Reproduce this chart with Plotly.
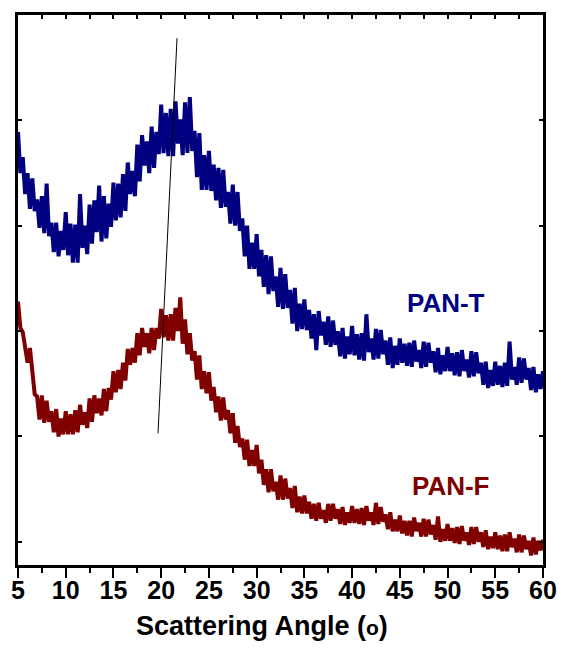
import numpy as np
import plotly.graph_objects as go

# Scattering angle grid (degrees), 0.25 deg step
angle_start = 5.0
angle_step = 0.25

# Diffracted intensity (a.u., offset for display), one row per degree
pan_t = [
    489, 450, 465, 430,
    450, 416, 445, 414,
    425, 398, 428, 393,
    440, 390, 403, 375,
    403, 371, 395, 377,
    413, 372, 402, 365,
    401, 365, 430, 379,
    400, 373, 420, 383,
    424, 394, 438, 385,
    428, 388, 421, 399,
    441, 405, 440, 408,
    449, 414, 460, 430,
    452, 428, 477, 442,
    486, 457, 480, 450,
    494, 455, 489, 468,
    515, 469, 507, 466,
    511, 466, 518, 478,
    501, 467, 517, 469,
    522, 471, 490, 446,
    488, 434, 467, 434,
    471, 433, 458, 424,
    455, 417, 453, 418,
    432, 402, 439, 400,
    432, 395, 407, 371,
    400, 359, 384, 359,
    392, 352, 377, 342,
    372, 335, 371, 338,
    352, 323, 360, 321,
    354, 322, 339, 307,
    341, 300, 326, 302,
    330, 301, 320, 293,
    316, 282, 319, 296,
    309, 287, 314, 285,
    310, 287, 300, 276,
    303, 274, 295, 278,
    305, 277, 297, 273,
    298, 272, 316, 280,
    293, 273, 302, 274,
    301, 278, 291, 268,
    294, 265, 286, 268,
    293, 270, 288, 267,
    289, 266, 291, 271,
    282, 265, 290, 266,
    289, 270, 281, 261,
    284, 259, 277, 262,
    285, 262, 279, 258,
    280, 257, 282, 262,
    273, 256, 281, 257,
    280, 260, 270, 249,
    271, 246, 263, 248,
    271, 249, 267, 247,
    270, 248, 290, 254,
    266, 249, 275, 251,
    274, 254, 265, 244,
    266, 242, 259, 245,
    262,
]

pan_f = [
    328, 303, 299, 282,
    270, 284, 258, 240,
    238, 216, 239, 213,
    234, 214, 224, 204,
    226, 200, 217, 202,
    224, 202, 221, 202,
    225, 204, 230, 211,
    223, 208, 236, 214,
    239, 222, 236, 220,
    245, 224, 246, 235,
    262, 242, 263, 245,
    270, 253, 283, 268,
    284, 270, 298, 277,
    303, 285, 298, 279,
    303, 282, 303, 293,
    321, 294, 315, 291,
    316, 291, 322, 300,
    332, 288, 311, 278,
    298, 272, 281, 254,
    277, 245, 262, 241,
    261, 234, 247, 223,
    238, 215, 237, 216,
    225, 203, 222, 194,
    210, 190, 198, 178,
    197, 172, 187, 172,
    192, 165, 178, 154,
    169, 147, 169, 148,
    157, 140, 163, 140,
    160, 141, 151, 132,
    153, 128, 143, 127,
    144, 127, 138, 122,
    136, 120, 137, 122,
    130, 118, 136, 120,
    136, 122, 131, 117,
    133, 116, 128, 118,
    134, 118, 131, 117,
    132, 116, 134, 120,
    128, 116, 137, 117,
    133, 119, 126, 112,
    128, 110, 121, 110,
    125, 108, 120, 106,
    120, 105, 123, 110,
    118, 105, 122, 105,
    121, 107, 116, 102,
    124, 100, 112, 101,
    117, 101, 113, 99,
    114, 98, 115, 101,
    109, 97, 114, 98,
    114, 100, 109, 95,
    111, 93, 105, 94,
    109, 93, 106, 91,
    107, 91, 109, 95,
    103, 90, 107, 90,
    106, 93, 101, 87,
    104, 88, 101, 92,
    102,
]

# Guide line through the amorphous-halo maxima
guide_x = [19.67, 21.66]
guide_y = [203, 578]

x_ticks = list(range(5, 61, 5))
y_ticks = [100, 200, 300, 400, 500]

angle_t = angle_start + angle_step * np.arange(len(pan_t))
angle_f = angle_start + angle_step * np.arange(len(pan_f))

BLUE = "#000080"
RED = "#800000"
FONT = "Liberation Sans, Arial, sans-serif"

fig = go.Figure()
fig.add_trace(go.Scatter(x=angle_t, y=pan_t, mode="lines",
                         line=dict(color=BLUE, width=4), name="PAN-T"))
fig.add_trace(go.Scatter(x=angle_f, y=pan_f, mode="lines",
                         line=dict(color=RED, width=4), name="PAN-F"))
fig.add_trace(go.Scatter(x=guide_x, y=guide_y, mode="lines",
                         line=dict(color="black", width=1), name="guide"))
# empty trace so the mirrored top/right axes are drawn
fig.add_trace(go.Scatter(x=[], y=[], xaxis="x2", yaxis="y2", showlegend=False))

xr = [5, 60]
yr = [78, 600]

fig.update_layout(
    width=562, height=648,
    margin=dict(l=18, r=19, t=15, b=83),
    paper_bgcolor="white", plot_bgcolor="white",
    showlegend=False,
    font=dict(family=FONT, color="black"),
    xaxis=dict(
        range=xr, tickvals=x_ticks, ticks="outside", ticklen=10, tickwidth=2,
        tickcolor="black", showline=True, linecolor="black", linewidth=2.5,
        showgrid=False, zeroline=False, automargin=False,
        ticklabelstandoff=-9,
        tickfont=dict(family=FONT, size=25, weight="bold", color="black"),
        minor=dict(tick0=5, dtick=2.5, ticks="outside", ticklen=5, tickwidth=2,
                   tickcolor="black", showgrid=False),
    ),
    xaxis2=dict(
        range=xr, overlaying="x", side="top", anchor="y", dtick=2.5, tick0=5,
        ticks="inside", ticklen=4, tickwidth=2, tickcolor="black",
        showticklabels=False, showline=True, linecolor="black", linewidth=2.5,
        showgrid=False, zeroline=False, automargin=False,
    ),
    yaxis=dict(
        range=yr, tickvals=y_ticks, ticks="inside", ticklen=4, tickwidth=2,
        tickcolor="black", showticklabels=False, showline=True,
        linecolor="black", linewidth=3, showgrid=False, zeroline=False,
        automargin=False,
    ),
    yaxis2=dict(
        range=yr, overlaying="y", side="right", anchor="x", tickvals=y_ticks,
        ticks="inside", ticklen=4, tickwidth=2, tickcolor="black",
        showticklabels=False, showline=True, linecolor="black", linewidth=3,
        showgrid=False, zeroline=False, automargin=False,
    ),
    annotations=[
        dict(x=49.84, y=327, xref="x", yref="y", text="<b>PAN-T</b>",
             showarrow=False, font=dict(family=FONT, size=26, color=BLUE)),
        dict(x=50.4, y=153, xref="x", yref="y", text="<b>PAN-F</b>",
             showarrow=False, font=dict(family=FONT, size=26, color=RED)),
        dict(x=0.4657, y=-0.111, xref="paper", yref="paper",
             xanchor="center", yanchor="middle", showarrow=False,
             text="<b>Scattering Angle (<span style='font-size:21px'>ο</span>)</b>",
             font=dict(family=FONT, size=27, color="black")),
    ],
)

fig.write_html("out.html")
